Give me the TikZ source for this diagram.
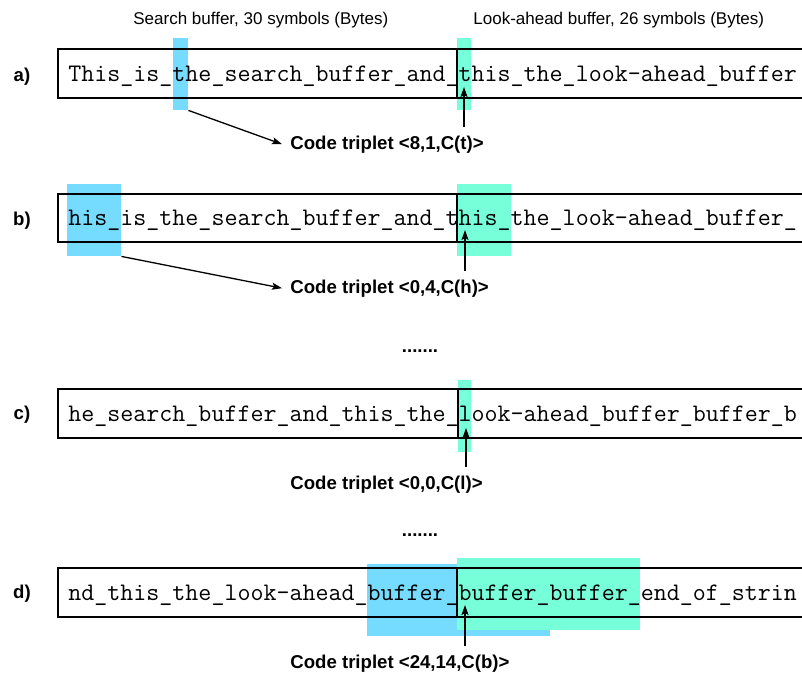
\documentclass[tikz,border=0pt]{standalone}
\usepackage{fontspec}
\setmainfont{Liberation Sans}
\usetikzlibrary{fit,arrows.meta}
\definecolor{searchblue}{RGB}{117,219,255}
\definecolor{lookgreen}{RGB}{119,255,217}
\tikzset{
    bufbox/.style={draw=black, line width=0.8pt, inner sep=0},
    buftext/.style={anchor=base west, inner sep=0, font=\ttfamily\fontsize{12.63}{14}\selectfont},
    searchhl/.style={fill=searchblue, inner sep=0},
    lookhl/.style={fill=lookgreen, inner sep=0},
    rowlabel/.style={anchor=base, inner sep=0, font=\bfseries\fontsize{9.3}{11}\selectfont},
    triplet/.style={anchor=base west, inner xsep=4pt, inner ysep=4pt, font=\bfseries\fontsize{9.3}{11}\selectfont},
    headline/.style={anchor=base west, inner sep=0, font=\fontsize{8.5}{10}\selectfont},
    divider/.style={line width=0.9pt},
    pointer/.style={-{Stealth[length=5pt,width=3.5pt,inset=1pt]}, line width=0.65pt}
}

\begin{document}
\begin{tikzpicture}[x=0.5pt,y=-0.5pt]
    \clip (0,0) rectangle (802,675);
    \node[headline] (hs) at (133,24) {Search buffer, 30 symbols (Bytes)};
    \node[headline] (hl) at (473,24) {Look-ahead buffer, 26 symbols (Bytes)};

    % a)
    \node[searchhl, fit={(173,38) (188,110)}] (sa) {};
    \node[lookhl, fit={(457,38) (471,110)}] (la) {};
    \node[bufbox, fit={(58,49) (830,98)}] (ba) {};
    \draw[divider] (ba.north -| la.west) -- (ba.south -| la.west);
    \node[buftext] (xa) at (68,81) {This\_is\_the\_search\_buffer\_and\_this\_the\_look-ahead\_buffer};
    \node[rowlabel] (a) at (22,81) {a)};
    \node[triplet] (ca) at (282,149) {Code triplet <8,1,C(t)>};
    \coordinate (pa) at (464,87);
    \draw[pointer] (sa.south east) -- (ca.west);
    \draw[pointer] (ca.north -| pa) -- (pa);

    % b)
    \node[searchhl, fit={(67,184) (121,256)}] (sb) {};
    \node[lookhl, fit={(457,184) (511,256)}] (lb) {};
    \node[bufbox, fit={(58,194) (830,242)}] (bb) {};
    \draw[divider] (bb.north -| lb.west) -- (bb.south -| lb.west);
    \node[buftext] (xb) at (68,225) {his\_is\_the\_search\_buffer\_and\_this\_the\_look-ahead\_buffer\_};
    \node[rowlabel] (b) at (22,225) {b)};
    \node[triplet] (cb) at (282,293) {Code triplet <0,4,C(h)>};
    \coordinate (pb) at (465,230);
    \draw[pointer] (sb.south east) -- (cb.west);
    \draw[pointer] (cb.north -| pb) -- (pb);

    \node[rowlabel] (dots1) at (420,352) {.......};

    % c)
    \node[lookhl, fit={(458,380) (471,452)}] (lc) {};
    \node[bufbox, fit={(58,389) (830,438)}] (bc) {};
    \draw[divider] (bc.north -| lc.west) -- (bc.south -| lc.west);
    \node[buftext] (xc) at (68,421) {he\_search\_buffer\_and\_this\_the\_look-ahead\_buffer\_buffer\_b};
    \node[rowlabel] (c) at (22,419) {c)};
    \node[triplet] (cc) at (282,489) {Code triplet <0,0,C(l)>};
    \coordinate (pc) at (466,428);
    \draw[pointer] (cc.north -| pc) -- (pc);

    \node[rowlabel] (dots2) at (420,536) {.......};

    % d)
    \node[searchhl, fit={(367,564) (550,636)}] (sd) {};
    \node[lookhl, fit={(457,558) (640,630)}] (ld) {};
    \node[bufbox, fit={(58,568) (830,617)}] (bd) {};
    \draw[divider] (bd.north -| ld.west) -- (bd.south -| ld.west);
    \node[buftext] (xd) at (68,600) {nd\_this\_the\_look-ahead\_buffer\_buffer\_buffer\_end\_of\_strin};
    \node[rowlabel] (d) at (22,598) {d)};
    \node[triplet] (cd) at (282,668) {Code triplet <24,14,C(b)>};
    \coordinate (pd) at (465,605);
    \draw[pointer] (cd.north -| pd) -- (pd);
\end{tikzpicture}
\end{document}
